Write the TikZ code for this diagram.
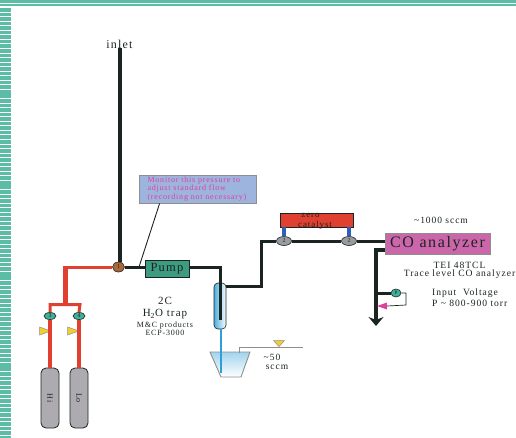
\documentclass[tikz,border=0pt]{standalone}
\usepackage{xcolor}
\usepackage{fontspec}
\setmainfont[LetterSpace=10]{Liberation Serif}
\usetikzlibrary{positioning, arrows.meta, calc, shapes.geometric}
\definecolor{band}{HTML}{5BBDA5}
\definecolor{char}{HTML}{1A2421}
\definecolor{redline}{HTML}{E0402F}
\definecolor{pumpc}{HTML}{3D9B80}
\definecolor{tealv}{HTML}{3FB09A}
\definecolor{brownv}{HTML}{A8683A}
\definecolor{greyv}{HTML}{9A9AA0}
\definecolor{cyl}{HTML}{ADABB0}
\definecolor{notec}{HTML}{9DB4DE}
\definecolor{pinkt}{HTML}{E0409A}
\definecolor{coc}{HTML}{CC66AA}
\definecolor{bluew}{HTML}{2F9FD8}
\definecolor{stub}{HTML}{2F5FB8}
\definecolor{yel}{HTML}{F2CE2E}
\definecolor{dim}{HTML}{8E8E8E}
\tikzset{
  valve/.style={ellipse, draw=char, line width=0.6pt, inner sep=0pt,
                font=\fontsize{6}{6}\selectfont, text=char},
  label/.style={align=center, inner sep=0pt, text=char},
  cylbox/.style={draw=char, fill=cyl, rounded corners=5pt, line width=0.8pt,
                 minimum width=18pt, minimum height=60pt, inner sep=0pt,
                 font=\fontsize{8}{8}\selectfont, text=char},
  flag/.style={isosceles triangle, isosceles triangle stretches, inner sep=0pt,
               minimum height=11pt, minimum width=8pt},
  blk/.style={draw=char, line width=4.2pt},
  blkthin/.style={draw=char, line width=3pt},
  red/.style={draw=redline, line width=4pt},
}
\begin{document}
\begin{tikzpicture}[x=1pt, y=-1pt]
  \useasboundingbox (0,0) rectangle (516,437);
  % border stripes
  \fill[band] (0,0) rectangle (516,3.3);
  \fill[band] (0,4) rectangle (516,6);
  \foreach \ypos in {8,12.55,...,436} {
    \fill[band] (0,\ypos) rectangle (11,\ypos+3.6);
  }
  % gas side
  \node[cylbox] (hi) at (50,398) {\rotatebox{-90}{Hi}};
  \node[cylbox] (lo) at (79,398) {\rotatebox{-90}{Lo}};
  \node[valve, fill=tealv, minimum width=12pt, minimum height=7pt] (vhi) at (50,316) {3};
  \node[valve, fill=tealv, minimum width=12pt, minimum height=7pt] (vlo) at (79,316) {4};
  \node[valve, fill=brownv, minimum width=12pt, minimum height=10pt] (vin) at (118.5,267) {1};
  \node[flag, fill=yel, draw=dim, line width=0.5pt] (flaghi) at (42.5,331) {};
  \node[flag, fill=yel, draw=dim, line width=0.5pt] (flaglo) at (70.5,331) {};
  \coordinate (tee) at (65,304.5);
  \coordinate (teehi) at (48,304.5);
  \coordinate (teelo) at (80,304.5);
  \coordinate (elbow) at (65,267);
  \draw[red] (hi.north) -- (vhi.south);
  \draw[red] (lo.north) -- (vlo.south);
  \draw[redline, line width=3pt] (vhi.north) -- (vhi.north |- teehi) -- (teelo) -- (vlo.north);
  \draw[redline, line width=5pt] (tee) -- (elbow);
  \draw[redline, line width=3pt] (62.5,267) -- (vin.west);
  % inlet
  \node[label, font=\fontsize{12}{12}\selectfont] (inlet) at (119.5,44) {inlet};
  \coordinate (intop) at (120,48);
  \draw[blk] (intop) -- (intop |- vin.north);
  % pump and note
  \node[draw=char, fill=pumpc, line width=0.8pt, minimum width=44pt, minimum height=17pt,
        inner sep=0pt, text=char, font=\fontsize{12.5}{12.5}\selectfont] (pump) at (167,268.5) {Pump};
  \node[draw=dim, fill=notec, line width=0.8pt, minimum width=117pt, minimum height=28pt,
        inner sep=0pt, text=pinkt, font=\fontsize{8}{8.4}\selectfont] (note) at (197.5,189)
    {\parbox{100pt}{Monitor this pressure to\\adjust standard flow\\(recording not necessary)}};
  \coordinate (notefoot) at (139,267);
  \draw[blkthin] (vin.east) -- (pump.west |- vin.east);
  \draw[draw=char, line width=0.9pt] (note.south west) ++(21,0) -- (notefoot);
  % trap
  \node[draw=char, rounded corners=4pt, left color=bluew!85, right color=white, line width=0.6pt,
        minimum width=12pt, minimum height=46pt, inner sep=0pt] (trap) at (220,306) {};
  \coordinate (trapin) at (220,320);
  \coordinate (riser) at (261,286);
  \coordinate (pumpout) at (189,267);
  \draw[blkthin] (pumpout) -- (pumpout -| trapin) -- (trapin);
  \shadedraw[top color=bluew!45, bottom color=white, draw=dim, line width=0.9pt]
    (210,352) -- (250,352) -- (241,377) -- (221,377) -- cycle;
  \coordinate (beakertop) at (221,329);
  \coordinate (beakerin) at (221,373);
  \draw[bluew, line width=1.5pt] (beakertop) -- (beakerin);
  \coordinate (ventin) at (239,353);
  \coordinate (ventend) at (303,347);
  \draw[dim, line width=0.9pt] (ventin) |- (ventend);
  \node[flag, shape border rotate=-90, fill=yel, draw=dim, line width=0.5pt,
        minimum height=6pt, minimum width=11pt] (flagvent) at (279,343) {};
  % zero catalyst branch
  \node[valve, fill=greyv, minimum width=15pt, minimum height=9pt] (vza) at (284,241) {2};
  \node[valve, fill=greyv, minimum width=15pt, minimum height=9pt] (vzb) at (349,241) {2};
  \node[draw=char, fill=redline, line width=0.6pt, minimum width=73pt, minimum height=14pt,
        inner sep=0pt] (zero) at (316.5,220) {};
  \node[label, font=\fontsize{9}{10}\selectfont, anchor=west] (zerotxt) at (298,221)
    {\parbox{40pt}{\ zero\\catalyst}};
  \node[draw=dim, fill=coc, line width=0.8pt, minimum width=105pt, minimum height=21pt,
        inner sep=0pt, text=char, font=\fontsize{16}{16}\selectfont] (co) at (437.5,243.5) {CO analyzer};
  \draw[stub, line width=4pt] (vza.north) -- (vza.north |- zero.south);
  \draw[stub, line width=4pt] (vzb.north) -- (vzb.north |- zero.south);
  \draw[blkthin] (trap.east |- riser) -- (riser) |- (vza.west);
  \draw[blkthin] (vza.east) -- (vzb.west);
  \draw[blkthin] (vzb.east) -- (co.west |- vzb.east);
  % exhaust
  \coordinate (coout) at (385,250);
  \coordinate (exhaust) at (376,326);
  \draw[char, line width=3.2pt, -{Stealth[length=9pt, width=15pt]}] (coout) -| (exhaust);
  \node[valve, fill=tealv, minimum width=10pt, minimum height=8pt, font=\fontsize{5}{5}\selectfont] (vp) at (396,293) {P};
  \node[flag, shape border rotate=180, fill=pinkt, minimum height=10pt, minimum width=7pt] (pflag) at (384.5,306) {};
  \coordinate (loop) at (406,305);
  \draw[blkthin] (376,293) -- (vp.west);
  \draw[draw=char, line width=0.7pt] (vp.east) -| (loop) -- (pflag.east);
  % labels
  \node[label, font=\fontsize{11}{12}\selectfont] (trapa) at (165,301) {2C};
  \node[label, font=\fontsize{11}{12}\selectfont] (trapb) at (165,314) {H\textsubscript{2}O trap};
  \node[label, font=\fontsize{8}{8.2}\selectfont] (trapc) at (165,329) {M\&C products\\ECP-3000};
  \node[label, font=\fontsize{9.5}{10}\selectfont] (flowa) at (272,357) {\textasciitilde50};
  \node[label, font=\fontsize{9.5}{10}\selectfont] (flowb) at (277,367) {sccm};
  \node[label, font=\fontsize{9.5}{10}\selectfont] (flowc) at (441,220) {\textasciitilde1000 sccm};
  \node[label, font=\fontsize{9.6}{10}\selectfont] (tei) at (459.5,265) {TEI 48TCL};
  \node[label, font=\fontsize{9.6}{10}\selectfont] (trace) at (459.5,274.5) {Trace level CO analyzer};
  \node[label, font=\fontsize{9.6}{10}\selectfont, anchor=west] (volt) at (432,293.5) {Input\ \ Voltage};
  \node[label, font=\fontsize{9.6}{10}\selectfont, anchor=west] (torr) at (432,303) {P \textasciitilde{} 800-900 torr};
\end{tikzpicture}
\end{document}
